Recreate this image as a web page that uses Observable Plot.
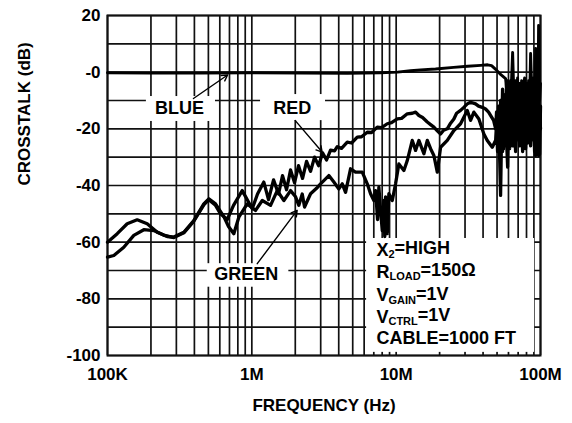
<!DOCTYPE html>
<html>
<head>
<meta charset="utf-8">
<script src="https://cdn.jsdelivr.net/npm/d3@7"></script>
<script src="https://cdn.jsdelivr.net/npm/@observablehq/plot@0.6"></script>
<style>
  html, body { margin: 0; padding: 0; background: white; }
  #chart svg { display: block; }
</style>
</head>
<body>
<div id="chart"></div>
<script>
// ---------- tick labels ----------
const xTicks = [1e5, 1e6, 1e7, 1e8];
const xTickLabels = ["100K", "1M", "10M", "100M"];
const yTicks = [-100, -80, -60, -40, -20, 0, 20];
const yTickLabels = ["-100", "-80", "-60", "-40", "-20", "-0", "20"];
const gridDb = [-100, -90, -80, -70, -60, -50, -40, -30, -20, -10, 0, 10, 20];
const gridMantissa = [1, 2, 3, 4, 5, 6, 7, 8, 9];
const gridDecades = [1e5, 1e6, 1e7];

// ---------- series (frequency in MHz, crosstalk in dB) ----------
const blueMHz = [0.1, 0.1987, 0.441, 0.980, 2.18, 4.61, 7.80, 10.2, 12.59, 14.76, 18.75, 24.99, 31.24, 38.45, 42.99, 45.83, 48.9, 52.9, 57.3,
  58.2, 59.2, 60.1, 61.1, 62.1, 63.1, 64.1, 65.1, 66.2, 67.2, 68.3, 69.4, 70.5, 71.7, 72.8, 74.0, 75.2, 76.4, 77.6, 78.9, 80.1, 81.4, 82.7, 84.1, 85.4, 86.8, 88.2, 89.6, 91.0, 92.5, 94.0, 95.5, 97.0, 98.6, 100];
const blueDb = [-0.2, -0.3, -0.3, -0.2, -0.3, -0.4, -0.2, 0, 0.5, 0.8, 1.1, 1.7, 2.1, 2.4, 2.6, 2.3, 1.0, -0.8, -2.3,
  -6, -3, -9, -4, -12, -2, 7, -5, -15, -3, -8, -2, -18, -4, -10, -3, -20, -5, -2, -12, -4, -22, -3, -9, 6.6, -5, -14, -2, -20, 8.4, -6, -26, 16.5, -10, -4];

const redMHz = [0.1, 0.1106, 0.1297, 0.1521, 0.1785, 0.2094, 0.2444, 0.2881, 0.3380, 0.3963, 0.4649, 0.5035, 0.5603, 0.6069, 0.6753, 0.7466, 0.8580,
  1.006, 1.095, 1.211, 1.305, 1.414, 1.531, 1.632, 1.740, 1.855, 1.977, 2.107, 2.246, 2.394, 2.552, 2.720, 2.899, 3.090, 3.294, 3.511, 3.742, 3.907,
  4.184, 4.583, 4.908, 5.376, 5.757, 6.306, 6.754, 7.396, 7.922, 8.676, 9.292, 10.18, 10.90, 11.94, 12.93, 13.63, 14.37, 15.24, 16.43, 17.32, 18.25,
  19.36, 20.31, 21.31, 22.60, 23.83, 25.11, 26.22, 27.94, 29.31, 31.09, 32.77, 35.49, 37.24, 39.50, 41.64, 43.68, 47.31,
  48.9, 49.6, 50.4, 51.2, 52.1, 52.9, 53.8, 54.6, 55.5, 56.4, 57.3, 58.2, 59.2, 60.1, 61.1, 62.1, 63.1, 64.1, 65.1, 66.2, 67.2, 68.3, 69.4, 70.5,
  71.7, 72.8, 74.0, 75.2, 76.4, 77.6, 78.9, 80.1, 81.4, 82.7, 84.1, 85.4, 86.8, 88.2, 89.6, 91.0, 92.5, 94.0, 95.5, 97.0, 98.6, 100];
const redDb = [-65.3, -64.7, -61.8, -57.6, -55.6, -55.9, -57.5, -58.4, -56.7, -52.6, -46.8, -45.0, -47.0, -50.0, -52.0, -47.0, -41.8,
  -48.2, -43.0, -38.8, -45.0, -38.0, -43.0, -36.5, -41.5, -34.5, -39.0, -33.0, -37.5, -31.5, -35.0, -30.0, -33.0, -28.5, -31.0, -27.5, -27.8, -26.3,
  -26.9, -24.7, -25.0, -22.9, -22.8, -21.2, -21.3, -19.4, -19.6, -18.2, -17.8, -16.5, -16.3, -14.7, -14.5, -14.1, -15.3, -16.0, -17.6, -18.5, -19.4,
  -20.8, -21.8, -20.5, -20.0, -18.0, -16.5, -14.5, -13.5, -12.5, -11.2, -10.6, -11.2, -12.0, -12.4, -13.0, -14.1, -17.0,
  -20, -14, -24, -12, -26, -10, -22, -6, -27, -8, -20, -4, -25, -10, -18, -3, -24, -12, -6, -26, -10, -20, -5, -24,
  -12, -24, -8, -18, -4, -25, -11, -16, -6, -22, -10, -3, -18, -8, -24, -12, -29.4, -5, -20, -8, -29, -12];

const greenMHz = [0.1, 0.1168, 0.1369, 0.1606, 0.1884, 0.2211, 0.2593, 0.2881, 0.3380, 0.3963, 0.4649, 0.5035, 0.5603, 0.6397, 0.6895, 0.7502, 0.8127, 0.9292,
  1.061, 1.181, 1.348, 1.500, 1.667, 1.855, 2.009, 2.117, 2.235, 2.319, 2.552, 2.808, 2.993, 3.417, 3.701, 4.008, 4.231, 4.460, 4.830, 5.232, 5.822,
  6.306, 6.647, 7.006, 7.199, 7.432, 7.588, 7.796, 8.011, 8.218, 8.337, 8.444, 8.676, 8.900, 9.397, 9.905, 10.44, 11.31, 11.94, 12.93, 13.63, 14.37,
  15.56, 16.43, 17.32, 18.25, 19.27, 20.31, 22.60, 25.11, 27.94, 31.09, 32.77, 34.54, 37.42, 40.52, 42.78, 46.34,
  48.9, 49.6, 50.4, 51.2, 52.1, 52.9, 53.8, 54.6, 55.5, 56.4, 57.3, 58.2, 59.2, 60.1, 61.1, 62.1, 63.1, 64.1, 65.1, 66.2, 67.2, 68.3, 69.4, 70.5,
  71.7, 72.8, 74.0, 75.2, 76.4, 77.6, 78.9, 80.1, 81.4, 82.7, 84.1, 85.4, 86.8, 88.2, 89.6, 91.0, 92.5, 94.0, 95.5, 97.0, 98.6, 100];
const greenDb = [-60, -57, -53.5, -52.1, -53.5, -56.5, -58, -58.2, -56.5, -52.4, -46.5, -44.7, -46.5, -51, -54.5, -57, -51.2, -46.5,
  -48.8, -45.3, -47, -41.8, -45.3, -41.8, -44, -47, -43, -47.6, -42.9, -41, -39.4, -36.5, -38.8, -41.2, -39.4, -42.4, -34.1, -35.3, -35.3,
  -39.4, -42.9, -45.3, -41.8, -52, -40.6, -48.8, -55.9, -45.3, -58, -44, -57, -42.9, -45.3, -39.4, -32.4, -34.7, -31.2, -24.1, -27.6, -24.1,
  -28.8, -24.1, -27, -29.4, -35.3, -26.5, -24.1, -20.6, -18.2, -13.5, -17, -14.1, -16.5, -21.8, -24.1, -26.5,
  -24, -18, -28, -16, -30, -43.5, -20, -28, -14, -26, -18, -24, -33.5, -16, -27, -10, -22, -26, -14, -20, -28, -12, -22, -16,
  -26, -9, -20, -28, -12, -18, -27, -14, -25, -8, -20, -26, -10, -22, -16, -28, -12, -22, -18, -29.4, -14, -20];

// ---------- annotations ----------
const curveLabelNames = ["BLUE", "RED", "GREEN"];
const curveLabelMHz = [0.3155, 1.905, 0.916];
const curveLabelDb = [-12.7, -12.7, -71.2];
// white boxes behind labels (MHz / dB extents)
const boxX1 = [0.186, 1.149, 0.491, 6.24];
const boxX2 = [0.560, 3.24, 1.805, 91];
const boxY1 = [-8.6, -7.9, -67.6, -58.7];
const boxY2 = [-17.4, -17.1, -75.9, -98.9];
// arrows from label to curve
const arrowFromMHz = [0.394, 2.0, 1.09];
const arrowFromDb = [-9.3, -17.1, -67.6];
const arrowToMHz = [0.679, 3.07, 2.06];
const arrowToDb = [-1.0, -28.2, -48.8];
// condition notes: base, subscript, rest
const noteBase = ["X", "R", "V", "V", "CABLE=1000 FT"];
const noteSub = ["2", "LOAD", "GAIN", "CTRL", ""];
const noteRest = ["=HIGH", "=150Ω", "=1V", "=1V", ""];
const noteDb = [-62.7, -70.6, -78.8, -86.5, -93.9];
const noteMHz = 7.3;

// ---------- build tables ----------
const toRows = (mhz, db, s) => mhz.map((m, i) => ({f: m * 1e6, db: db[i], s}));
const blue = toRows(blueMHz, blueDb, "BLUE");
const red = toRows(redMHz, redDb, "RED");
const green = toRows(greenMHz, greenDb, "GREEN");
const gridFreqs = gridDecades.flatMap(d => gridMantissa.map(m => m * d)).concat([1e8]);
const boxes = boxX1.map((x, i) => ({x1: x * 1e6, x2: boxX2[i] * 1e6, y1: boxY1[i], y2: boxY2[i]}));
const arrows = arrowFromMHz.map((x, i) => ({x1: x * 1e6, y1: arrowFromDb[i], x2: arrowToMHz[i] * 1e6, y2: arrowToDb[i]}));
const labels = curveLabelNames.map((t, i) => ({t, f: curveLabelMHz[i] * 1e6, db: curveLabelDb[i]}));
const notes = noteBase.map((b, i) => ({t: b + (noteSub[i] ? "_{" + noteSub[i] + "}" : "") + noteRest[i], f: noteMHz * 1e6, db: noteDb[i]}));

const FONT = "'Liberation Sans', Arial, Helvetica, sans-serif";

const chart = Plot.plot({
  width: 572,
  height: 423,
  marginLeft: 107,
  marginRight: 32,
  marginTop: 15,
  marginBottom: 68,
  style: {fontFamily: FONT, fontSize: "17px", fontWeight: "bold", background: "white", color: "black"},
  x: {type: "log", domain: [1e5, 1e8]},
  y: {domain: [-100, 20]},
  marks: [
    Plot.ruleX(gridFreqs, {stroke: "#111", strokeWidth: 1.7}),
    Plot.ruleY(gridDb, {stroke: "#111", strokeWidth: 1.7}),
    Plot.rect(boxes, {x1: "x1", x2: "x2", y1: "y1", y2: "y2", fill: "white"}),
    Plot.frame({stroke: "#111", strokeWidth: 2}),
    Plot.line(blue, {x: "f", y: "db", stroke: "black", strokeWidth: 2.9, strokeLinejoin: "round"}),
    Plot.line(green, {x: "f", y: "db", stroke: "black", strokeWidth: 3.3, strokeLinejoin: "round"}),
    Plot.line(red, {x: "f", y: "db", stroke: "black", strokeWidth: 3.3, strokeLinejoin: "round"}),
    Plot.arrow(arrows, {x1: "x1", y1: "y1", x2: "x2", y2: "y2", stroke: "black", strokeWidth: 1.4, headLength: 7}),
    Plot.text(labels, {x: "f", y: "db", text: "t", fontSize: 18, fontWeight: "bold", fontFamily: FONT, fill: "black"}),
    Plot.text(notes, {x: "f", y: "db", text: "t", textAnchor: "start", fontSize: 18, fontWeight: "bold", fontFamily: FONT, fill: "black"}),
    Plot.axisX(xTicks, {tickFormat: d => xTickLabels[xTicks.indexOf(d)], tickSize: 0, tickPadding: 12, label: null,
      fontSize: 17, fontWeight: "bold", fontFamily: FONT, fill: "black"}),
    Plot.axisY(yTicks, {tickFormat: d => yTickLabels[yTicks.indexOf(d)], tickSize: 0, tickPadding: 7, label: null,
      fontSize: 17, fontWeight: "bold", fontFamily: FONT, fill: "black"}),
    Plot.text(["CROSSTALK (dB)"], {text: d => d, frameAnchor: "left", dx: -83, rotate: -90, fontSize: 17, fontWeight: "bold", fontFamily: FONT, fill: "black"}),
    Plot.text(["FREQUENCY (Hz)"], {text: d => d, frameAnchor: "bottom", dy: 55, fontSize: 17, fontWeight: "bold", fontFamily: FONT, fill: "black"})
  ]
});

// turn "_{...}" markup into real subscript tspans
d3.select(chart).selectAll("text").each(function () {
  const s = this.textContent;
  const m = s.match(/^(.*)_\{(.*)\}(.*)$/);
  if (!m) return;
  const t = d3.select(this);
  t.text(null);
  t.append("tspan").text(m[1]);
  t.append("tspan").attr("font-size", 11).attr("dy", "0.22em").text(m[2]);
  t.append("tspan").attr("dy", "-0.22em").text(m[3]);
});

document.getElementById("chart").appendChild(chart);
</script>
</body>
</html>
